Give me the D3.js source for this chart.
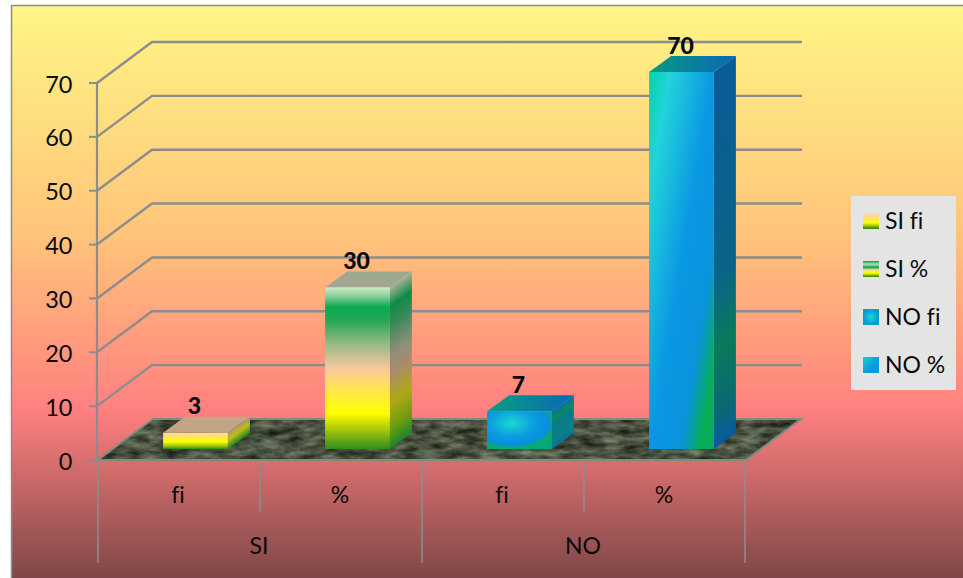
<!DOCTYPE html>
<html><head><meta charset="utf-8">
<style>html,body{margin:0;padding:0;background:#fff}svg{display:block}text{font-family:Lato,sans-serif;fill:#0a0a0a;font-variant-ligatures:none}</style>
<script src="https://cdn.jsdelivr.net/npm/d3@7"></script></head>
<body><script>
// Chart content
const groups = ["SI", "NO"];
const measures = ["fi", "%", "fi", "%"];
const seriesNames = ["SI fi", "SI %", "NO fi", "NO %"];
const values = [3, 30, 7, 70];
const yTicks = [0, 10, 20, 30, 40, 50, 60, 70];

const W = 963, H = 578;
const svg = d3.select("body").append("svg").attr("width", W).attr("height", H);
const defs = svg.append("defs");

// Projection of the pseudo-3D box
const wall = {dx: 55, dy: -41};
const barDepth = {dx: 22, dy: -16};
const barLift = 11;

const y = d3.scaleLinear().domain([0, 70]).range([460, 83]);
const xAxisBand = d3.scaleBand().domain(d3.range(4)).range([98, 746]);
const xBar = d3.scaleBand().domain(d3.range(4)).range([114.5, 762.5]).paddingInner(0.6).paddingOuter(0.3);

function grad(id, stops, kind = "v") {
  let g;
  if (kind === "radial") {
    g = defs.append("radialGradient").attr("id", id).attr("cx", .38).attr("cy", .32).attr("r", .72);
  } else {
    g = defs.append("linearGradient").attr("id", id);
    const dir = {v: [0, 0, 0, 1], d: [0, 0, 1, 1], h: [0, 0, 1, 0]}[kind];
    g.attr("x1", dir[0]).attr("y1", dir[1]).attr("x2", dir[2]).attr("y2", dir[3]);
  }
  stops.forEach(([o, c]) => g.append("stop").attr("offset", o).attr("stop-color", c));
}

grad("bg", [[0, "#fff685"], [.4, "#ffc47a"], [.7, "#ff8080"], [1, "#7a4545"]]);

grad("f0", [[0, "#ffd9a0"], [.18, "#ffe070"], [.55, "#ffff00"], [.8, "#a5c808"], [1, "#2e8b1c"]]);
grad("s0", [[0, "#b09a70"], [.45, "#bdbd10"], [1, "#1d8a28"]]);
grad("t0", [[0, "#c6a585"], [1, "#c0a484"]]);

grad("f1", [[0, "#cfe8c8"], [.05, "#8fd2a0"], [.12, "#0aa950"], [.2, "#22a855"], [.36, "#9dbb85"], [.5, "#f8c8a0"],
  [.6, "#ffdf60"], [.78, "#ffff00"], [.88, "#a8c808"], [1, "#2f8d1e"]]);
grad("s1", [[0, "#a8b09a"], [.12, "#0f8a45"], [.25, "#3f8a5c"], [.42, "#8f8f78"], [.52, "#a68a72"],
  [.72, "#b0a814"], [.88, "#6a9c10"], [1, "#1d8530"]]);
grad("t1", [[0, "#9aa88e"], [1, "#a2a893"]]);

grad("f2", [[0, "#1cd8d0"], [.5, "#0a9ce0"], [.78, "#0a8ee0"], [.95, "#08b060"], [1, "#06a878"]], "radial");
grad("s2", [[0, "#0a6fa8"], [.22, "#0a8a60"], [.4, "#0a7a8a"], [.8, "#0a8088"], [1, "#0a70a0"]]);
grad("t2", [[0, "#07a080"], [1, "#0a68b8"]], "h");

grad("f3", [[0, "#00d4a8"], [.16, "#22d4d8"], [.5, "#0a98e4"], [.74, "#0a94dc"], [.9, "#06b050"], [1, "#10a870"]], "d");
grad("s3", [[0, "#0a5c98"], [.55, "#0a6488"], [.74, "#0a7a5c"], [.9, "#0a6a70"], [1, "#0a5aa0"]]);
grad("t3", [[0, "#0a9a82"], [1, "#0a68b4"]], "h");

// Legend keys use condensed versions of the face gradients
grad("k0", [[0, "#ffd9a8"], [.35, "#ffe070"], [.62, "#ffff00"], [1, "#2e8010"]]);
grad("k1", [[0, "#0a9a50"], [.2, "#b0e0b0"], [.4, "#0aa950"], [.55, "#f8d8a0"], [.75, "#ffff00"], [1, "#2e8010"]]);
grad("k2", [[0, "#1cd8c8"], [.65, "#0a98e0"], [1, "#0ab070"]], "radial");
defs.select("#k2").attr("cx", .5).attr("cy", .5).attr("r", .72);
grad("k3", [[0, "#10d8c0"], [.6, "#0a98e4"], [.9, "#0a98d8"], [1, "#0ab060"]], "d");

// Mottled stone texture of the floor
const stone = defs.append("filter").attr("id", "stone").attr("x", 0).attr("y", 0).attr("width", 1).attr("height", 1)
  .attr("color-interpolation-filters", "sRGB");
stone.append("feTurbulence").attr("type", "fractalNoise").attr("baseFrequency", "0.05 0.14").attr("numOctaves", 4).attr("seed", 11).attr("result", "n");
stone.append("feColorMatrix").attr("in", "n").attr("type", "matrix")
  .attr("values", ".55 0 0 0 .01  .58 0 0 0 .03  .5 0 0 0 0  0 0 0 0 1").attr("result", "c");
stone.append("feComposite").attr("in", "c").attr("in2", "SourceAlpha").attr("operator", "in");

// Chart area
svg.append("rect").attr("x", 11.5).attr("y", 5.5).attr("width", W).attr("height", H)
  .attr("fill", "url(#bg)").attr("stroke", "#8c8c8c").attr("stroke-width", 1.5);

const axisColor = "#8c8c8c";

// Wall gridlines, running back from the value axis and across
const [xL, xR] = xAxisBand.range();
const gridPath = d => {
  const p = d3.path();
  p.moveTo(xL - 1, y(d));
  p.lineTo(xL - 1 + wall.dx, y(d) + wall.dy);
  p.lineTo(xR + wall.dx + 1, y(d) + wall.dy);
  return p.toString();
};
svg.append("g").selectAll("path").data(yTicks.filter(d => d > 0)).join("path")
  .attr("d", gridPath).attr("fill", "none").attr("stroke", axisColor).attr("stroke-width", 2.4);

// Floor
const floorPts = [[xL, y(0)], [xL + wall.dx, y(0) + wall.dy], [xR + wall.dx, y(0) + wall.dy], [xR, y(0)]];
svg.append("polygon").attr("points", floorPts.join(" ")).attr("fill", "#444").attr("filter", "url(#stone)");
svg.append("polygon").attr("points", floorPts.join(" ")).attr("fill", "none").attr("stroke", "#7f8a80").attr("stroke-width", 2);

// Value axis
const yAxis = svg.append("g");
yAxis.append("line").attr("x1", xL - 1).attr("x2", xL - 1).attr("y1", y(70)).attr("y2", y(0))
  .attr("stroke", axisColor).attr("stroke-width", 2.2);
yAxis.selectAll("line.tick").data(yTicks).join("line").attr("class", "tick")
  .attr("x1", xL - 9).attr("x2", xL - 1).attr("y1", y).attr("y2", y)
  .attr("stroke", axisColor).attr("stroke-width", 2);
yAxis.selectAll("text").data(yTicks).join("text")
  .attr("x", 72.5).attr("y", d => y(d) + 9.5).attr("text-anchor", "end").attr("font-size", 23.5).text(d => d);

// Category axis with two tiers of dividers
const step = xAxisBand.step();
svg.append("g").selectAll("line").data(d3.range(5)).join("line")
  .attr("x1", i => xL + i * step - (i === 4 ? 1 : 0)).attr("x2", i => xL + i * step - (i === 4 ? 1 : 0))
  .attr("y1", y(0)).attr("y2", i => i % 2 ? 511 : 563)
  .attr("stroke", axisColor).attr("stroke-width", 1.6);
svg.append("g").selectAll("text").data(measures).join("text")
  .attr("x", (d, i) => xAxisBand(i) + step / 2 - 1).attr("y", 503).attr("text-anchor", "middle")
  .attr("font-size", 23).text(d => d);
svg.append("g").selectAll("text").data(groups).join("text")
  .attr("x", (d, i) => xL + (2 * i + 1) * step - 1).attr("y", 554).attr("text-anchor", "middle")
  .attr("font-size", 23).text(d => d);

// Bars: front, side and top faces
const w = xBar.bandwidth();
const bars = svg.append("g").selectAll("g").data(values).join("g");
bars.append("polygon").attr("fill", (d, i) => `url(#t${i})`)
  .attr("points", (d, i) => {
    const x = xBar(i), t = y(d) - barLift;
    return [[x, t], [x + barDepth.dx, t + barDepth.dy], [x + w + barDepth.dx, t + barDepth.dy], [x + w, t]].join(" ");
  });
bars.append("rect").attr("fill", (d, i) => `url(#s${i})`)
  .attr("width", barDepth.dx).attr("height", d => y(0) - y(d))
  .attr("transform", (d, i) => `matrix(1,${barDepth.dy / barDepth.dx},0,1,${xBar(i) + w},${y(d) - barLift})`);
bars.append("rect").attr("fill", (d, i) => `url(#f${i})`)
  .attr("x", (d, i) => xBar(i)).attr("y", d => y(d) - barLift)
  .attr("width", w).attr("height", d => y(0) - y(d));
bars.append("text").attr("x", (d, i) => xBar(i) + w / 2 - 1).attr("y", d => y(d) - barLift + barDepth.dy - 2.5)
  .attr("text-anchor", "middle").attr("font-weight", 900).attr("font-size", 23).text(d => d);

// Legend
svg.append("rect").attr("x", 851).attr("y", 196).attr("width", 105).attr("height", 194).attr("fill", "#e4e4e4");
const legend = svg.append("g").selectAll("g").data(seriesNames).join("g")
  .attr("transform", (d, i) => `translate(863,${213 + i * 48})`);
legend.append("rect").attr("width", 16).attr("height", 16).attr("fill", (d, i) => `url(#k${i})`);
legend.append("text").attr("x", 22).attr("y", 16).attr("font-size", 23).text(d => d);
</script></body></html>
